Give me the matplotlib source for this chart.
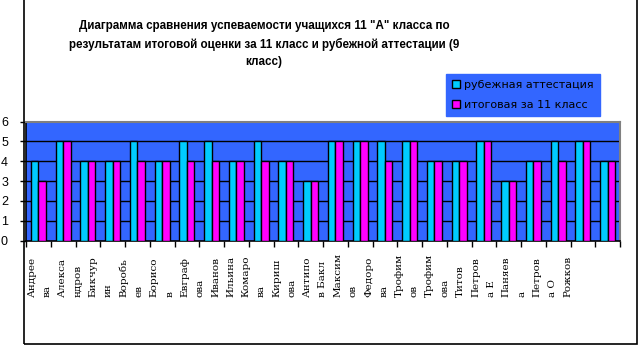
#=========================================================================
# uspevaemost-11a
#=========================================================================

import matplotlib
matplotlib.use( 'Agg' )
import matplotlib.pyplot as plt
import matplotlib.patches as patches
import numpy as np

#-------------------------------------------------------------------------
# Raw data
#-------------------------------------------------------------------------

title = ( 'Диаграмма сравнения успеваемости учащихся 11 "А" класса по\n'
          'результатам итоговой оценки за 11 класс и рубежной аттестации (9\n'
          'класс)' )

series_names = [ 'рубежная аттестация', 'итоговая за 11 класс' ]

# Category labels as they are wrapped in the original

names = [
  'Андрее\nва', 'Алекса\nндров', 'Бикчур\nин', 'Воробь\nев', 'Борисо\nв',
  'Евграф\nова', 'Иванов', 'Ильина', 'Комаро\nва', 'Кириш\nова',
  'Антипо\nв Бакл', 'Максим\nов', 'Федоро\nва', 'Трофим\nов',
  'Трофим\nова', 'Титов', 'Петров\nа Е', 'Паняев\nа', 'Петров\nа О',
  'Рожков',
]

rubezh  = [ 4, 5, 4, 4, 5, 4, 5, 5, 4, 5, 4, 3, 5, 5, 5, 5, 4, 4, 5, 3, 4, 5, 5, 4 ]
itog    = [ 3, 5, 4, 4, 4, 4, 4, 4, 4, 4, 4, 3, 5, 5, 4, 5, 4, 4, 5, 3, 4, 4, 5, 4 ]

y_ticks = [ 0, 1, 2, 3, 4, 5, 6 ]

#-------------------------------------------------------------------------
# Plot parameters
#-------------------------------------------------------------------------

W, H = 639, 355
dpi  = 100

bg_blue = '#3366FF'
cyan    = '#00CCFF'
magenta = '#FF00FF'

n     = len( rubezh )
ind   = np.arange( n )
width = 0.30

# plot area in pixels (left, right, top, bottom)
px_l, px_r, px_t, px_b = 26.0, 620.0, 121.5, 240.5

#-------------------------------------------------------------------------
# Create plot
#-------------------------------------------------------------------------

fig = plt.figure( figsize=( W/dpi, H/dpi ), dpi=dpi )
fig.patch.set_facecolor( 'white' )

ax = fig.add_axes( [ px_l/W, 1 - px_b/H, (px_r-px_l)/W, (px_b-px_t)/H ] )
ax.set_facecolor( bg_blue )

# Outer chart border (top edge sits just outside the picture)
fig.patches.append( patches.Rectangle(
  ( 24.0/W, 1 - 344.0/H ), (637.0-24.0)/W, 350.0/H,
  transform=fig.transFigure, fill=False, edgecolor='black', lw=1.2 ) )

# Horizontal grid
for y in y_ticks[1:-1]:
  ax.axhline( y, color='black', lw=1.0, zorder=1 )

b1 = ax.bar( ind - width/2, rubezh, width, color=cyan,
             edgecolor='black', lw=1.0, zorder=3, label=series_names[0] )
b2 = ax.bar( ind + width/2, itog, width, color=magenta,
             edgecolor='black', lw=1.0, zorder=3, label=series_names[1] )

ax.set_xlim( -0.5, n - 0.5 )
ax.set_ylim( 0, 6 )

# Axes formatting

ax.set_yticks( y_ticks )
ax.set_yticklabels( [ str(v) for v in y_ticks ],
                    fontsize=9, family='Liberation Sans' )
ax.set_xticks( np.arange( -0.5, n, 1.0 ) )
ax.set_xticklabels( [] )
ax.tick_params( axis='both', direction='out', length=4, width=1,
                color='black' )
ax.tick_params( axis='y', pad=9 )

ax.spines['left'].set_color( 'black' )
ax.spines['bottom'].set_color( 'black' )
ax.spines['left'].set_linewidth( 1.2 )
ax.spines['bottom'].set_linewidth( 1.2 )
ax.spines['top'].set_color( '#808080' )
ax.spines['right'].set_color( '#808080' )
ax.spines['top'].set_linewidth( 1.5 )
ax.spines['right'].set_linewidth( 1.5 )

# Category labels: one text column per wrapped line, bottom aligned

col_w = 15.3 / ( ( px_r - px_l ) / n )    # column pitch in data units
x0    = ( 32.0 - px_l ) / ( ( px_r - px_l ) / n ) - 0.5
y_lab = -( 297.0 - px_b ) / ( px_b - px_t )

col = 0
for name in names:
  for line in name.split( '\n' ):
    ax.text( x0 + col*col_w, y_lab, line, rotation=90,
             ha='center', va='bottom', fontsize=7.5,
             family='DejaVu Serif', transform=ax.get_xaxis_transform(),
             clip_on=False )
    col += 1

# Title

fig.text( 264.0/W, 1 - 44.0/H, title, ha='center', va='center',
          multialignment='center', fontsize=8.4, fontweight='bold',
          family='Liberation Sans', linespacing=1.55 )

# Legend

legend = ax.legend(
  handles=[ b1, b2 ], loc='upper left',
  bbox_to_anchor=( 446.0/W, 1 - 74.0/H ), bbox_transform=fig.transFigure,
  prop={ 'family':'DejaVu Sans', 'size':8 }, frameon=True,
  fancybox=False, framealpha=1.0, facecolor=bg_blue, edgecolor=bg_blue,
  borderpad=0.55, borderaxespad=0, handlelength=0.75, handleheight=0.75,
  handletextpad=0.35, labelspacing=0.85
)

#-------------------------------------------------------------------------
# Generate PNG
#-------------------------------------------------------------------------

fig.savefig( 'out.png', dpi=dpi )
